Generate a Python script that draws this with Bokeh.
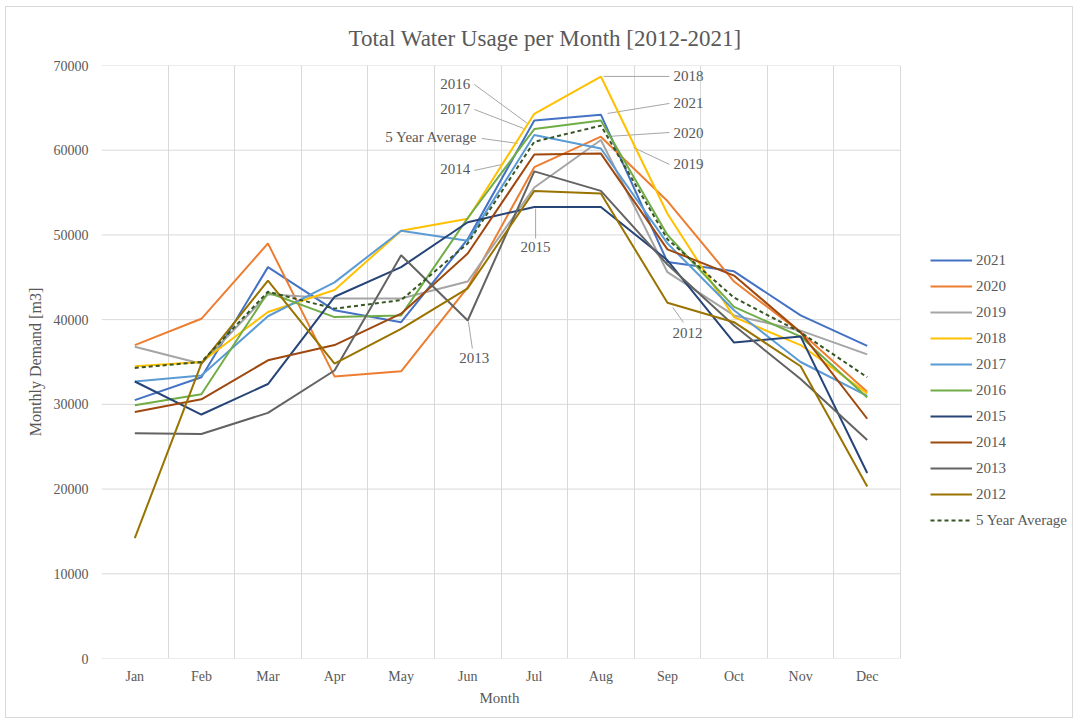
from bokeh.plotting import figure
from bokeh.models import (Range1d, FixedTicker, Legend, LegendItem, Title, Label)
from bokeh.embed import file_html
from bokeh.resources import INLINE

months = ["Jan", "Feb", "Mar", "Apr", "May", "Jun", "Jul", "Aug", "Sep", "Oct", "Nov", "Dec"]

y2021 = [30500, 33200, 46200, 41100, 39700, 49500, 63500, 64200, 46800, 45700, 40500, 36900]
y2020 = [37000, 40100, 49000, 33300, 33900, 43800, 58000, 61600, 54000, 44500, 38500, 31500]
y2019 = [36800, 34800, 43000, 42500, 42500, 44500, 55600, 61200, 45600, 40500, 38700, 35900]
y2018 = [34500, 35000, 40900, 43500, 50500, 51900, 64300, 68700, 52500, 40300, 37000, 31300]
y2017 = [32700, 33400, 40400, 44400, 50500, 49300, 61800, 60200, 49000, 41100, 35000, 31000]
y2016 = [29900, 31200, 43200, 40300, 40500, 52000, 62500, 63500, 50000, 41500, 38000, 30800]
y2015 = [32700, 28800, 32400, 42700, 46200, 51500, 53300, 53300, 47000, 37300, 38000, 21900]
y2014 = [29100, 30600, 35200, 37000, 40700, 47800, 59500, 59600, 48300, 45200, 38500, 28300]
y2013 = [26600, 26500, 29000, 34000, 47600, 39900, 57500, 55200, 46500, 39300, 33000, 25800]
y2012 = [14200, 34800, 44600, 34800, 38900, 43700, 55200, 54900, 42000, 39700, 34500, 20300]
avg5 = [34300, 35000, 43300, 41300, 42300, 49000, 61000, 62900, 49500, 42600, 38500, 33200]

series_names = ["2021", "2020", "2019", "2018", "2017", "2016", "2015", "2014", "2013", "2012"]
series_values = [y2021, y2020, y2019, y2018, y2017, y2016, y2015, y2014, y2013, y2012]
series_colors = ["#4472C4", "#ED7D31", "#A5A5A5", "#FFC000", "#5B9BD5", "#70AD47",
                 "#264478", "#9E480E", "#636363", "#997300"]
y_ticks = [0, 10000, 20000, 30000, 40000, 50000, 60000, 70000]

FONT = "Liberation Serif"
TXT = "#595959"
GRID = "#d9d9d9"

# layout (pixels): the frame also holds the legend area on its right
W, H = 1068, 712
LEFT, TOP, BOTTOM = 95, 58, 61
PLOT_W = 799                      # width occupied by the 12 months
FRAME_W = W - LEFT
n = len(months)
x_end = n * FRAME_W / PLOT_W

xpos = [i + 0.5 for i in range(n)]

p = figure(width=W, height=H, output_backend="svg", toolbar_location=None,
           x_range=Range1d(0, x_end), y_range=Range1d(0, 70000),
           min_border_left=LEFT, min_border_right=0, min_border_top=TOP, min_border_bottom=BOTTOM)
p.styles = {"border": "1px solid #d9d9d9", "margin-left": "5px", "margin-top": "6px"}
p.outline_line_color = None
p.background_fill_color = "white"
p.border_fill_color = "white"

p.title = Title(text="Total Water Usage per Month [2012-2021]", align="left", offset=247,
                text_font=FONT, text_font_size="23px", text_font_style="normal",
                text_color=TXT, standoff=29)

p.xaxis.ticker = FixedTicker(ticks=xpos)
p.xaxis.major_label_overrides = {x: m for x, m in zip(xpos, months)}
p.yaxis.ticker = FixedTicker(ticks=y_ticks)
p.xgrid.ticker = FixedTicker(ticks=list(range(n + 1)))
for ax in (p.xaxis[0], p.yaxis[0]):
    ax.axis_line_color = None
    ax.major_tick_line_color = None
    ax.minor_tick_line_color = None
    ax.major_label_text_font = FONT
    ax.major_label_text_font_size = "14px"
    ax.major_label_text_color = TXT
    ax.axis_label_text_font = FONT
    ax.axis_label_text_font_style = "normal"
    ax.axis_label_text_color = TXT
p.yaxis.axis_label = "Monthly Demand [m3]"
p.yaxis.axis_label_text_font_size = "16px"
p.xaxis.major_label_standoff = 4
p.yaxis.major_label_standoff = 7
p.yaxis.axis_label_standoff = 7
p.xgrid.grid_line_color = GRID
p.ygrid.grid_line_color = None

# x-axis title centred under the months
p.add_layout(Title(text="Month", align="left", offset=378, text_font=FONT,
                   text_font_size="15px", text_font_style="normal", text_color=TXT,
                   standoff=3), "below")

# horizontal grid lines only across the months
p.segment(x0=[0] * len(y_ticks), y0=y_ticks, x1=[n] * len(y_ticks), y1=y_ticks,
          line_color=GRID, line_width=1, level="underlay")

# annotations: (text, text x, text y, align, leader x0, y0, x1, y1) in data units
annotations = [
    ("2016", 5.54, 67760, "right", 5.60, 67760, 6.40, 63150),
    ("2017", 5.54, 64810, "right", 5.60, 64810, 6.34, 62570),
    ("5 Year Average", 5.65, 61510, "right", 5.71, 61390, 6.25, 60800),
    ("2014", 5.54, 57730, "right", 5.60, 57610, 6.02, 58320),
    ("2015", 6.52, 48520, "center", 6.52, 49580, 6.52, 53120),
    ("2013", 5.60, 35530, "center", 5.51, 39780, 5.57, 36600),
    ("2012", 8.80, 38480, "center", 8.58, 41440, 8.74, 39670),
    ("2018", 8.59, 68710, "left", 7.54, 68710, 8.53, 68710),
    ("2021", 8.59, 65520, "left", 7.60, 64340, 8.53, 65520),
    ("2020", 8.59, 62090, "left", 7.60, 61620, 8.53, 62090),
    ("2019", 8.59, 58320, "left", 7.99, 60320, 8.53, 58320),
]

p.segment(x0=[a[4] for a in annotations], y0=[a[5] for a in annotations],
          x1=[a[6] for a in annotations], y1=[a[7] for a in annotations],
          line_color="#a6a6a6", line_width=1)

items = []
for name, vals, col in zip(series_names, series_values, series_colors):
    r = p.line(xpos, vals, line_color=col, line_width=2)
    items.append(LegendItem(label=name, renderers=[r]))
ra = p.line(xpos, avg5, line_color="#375623", line_width=2, line_dash="4 3")
items.append(LegendItem(label="5 Year Average", renderers=[ra]))

for a in annotations:
    p.add_layout(Label(x=a[1], y=a[2], text=a[0], text_align=a[3], text_baseline="middle",
                       text_font=FONT, text_font_size="15px", text_color=TXT))

legend = Legend(items=items, location=(PLOT_W + 30, 128), orientation="vertical",
                label_text_font=FONT, label_text_font_size="15px", label_text_color=TXT,
                glyph_width=42, glyph_height=20, label_height=20, spacing=6,
                label_standoff=4, padding=0, margin=0,
                background_fill_alpha=0, border_line_color=None)
p.add_layout(legend)

open("out.html", "w").write(file_html(p, INLINE))
